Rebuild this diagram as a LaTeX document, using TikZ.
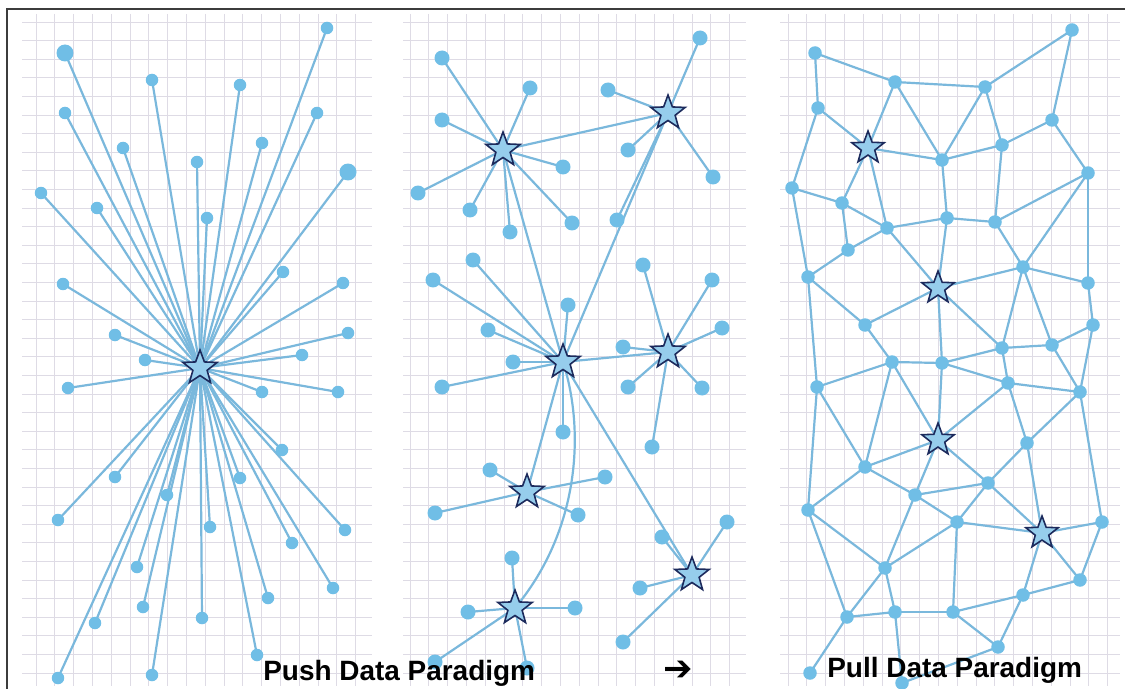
\documentclass[tikz,border=0pt]{standalone}
\usepackage{fontspec}
\setmainfont{Liberation Sans}
\newfontfamily\symfont{DejaVu Sans}
\usetikzlibrary{shapes.geometric}
\pgfdeclarelayer{gridlayer}
\pgfdeclarelayer{edgelayer}
\pgfsetlayers{gridlayer,edgelayer,main}
\definecolor{gridc}{RGB}{222,219,229}
\definecolor{dotc}{RGB}{112,190,230}
\definecolor{edgec}{RGB}{122,184,220}
\definecolor{starfill}{RGB}{150,205,236}
\definecolor{starline}{RGB}{28,42,92}
\definecolor{framec}{RGB}{60,60,60}
\tikzset{
  gridline/.style={draw=gridc, line width=0.5pt},
  dot/.style={circle, fill=dotc, draw=none, inner sep=0pt, minimum size=0.25cm},
  bigdot/.style={dot, minimum size=0.34cm},
  dotb/.style={dot, minimum size=0.30cm},
  dotc3/.style={dot, minimum size=0.27cm},
  starnode/.style={star, star points=5, star point ratio=2.4, fill=starfill, draw=starline, line width=0.9pt, inner sep=0pt, minimum size=0.72cm},
  edge/.style={draw=edgec, line width=1.25pt},
  lbl/.style={font=\fontsize{15.9pt}{18pt}\selectfont\bfseries, inner sep=0pt, text=black}
}
\begin{document}
\begin{tikzpicture}[x=0.02cm,y=-0.02cm]
\useasboundingbox (0,0) rectangle (1125,689);
% grids
\begin{pgfonlayer}{gridlayer}
\fill[white] (0,0) rectangle (1125,689);
\foreach \xa/\xb/\xs in {22/372/36, 403/746/410, 780/1120/788}{
  \pgfmathsetmacro{\nv}{int((\xb-\xs)/18.8)}
  \foreach \k in {0,...,\nv}{
    \draw[gridline] ({\xs+\k*18.8},14) -- ({\xs+\k*18.8},686);
  }
  \foreach \k in {0,...,35}{
    \draw[gridline] (\xa,{22+\k*18.6}) -- (\xb,{22+\k*18.6});
  }
}
\end{pgfonlayer}
% frame
\draw[framec, line width=1.6pt] (7,689) -- (7,9) -- (1125,9);

% ---------- Panel 1 ----------
\node[starnode] (s0) at (200,368) {};
\node[bigdot] (a0) at (65,53) {};
\node[bigdot] (a00) at (348,172) {};
\begin{pgfonlayer}{edgelayer}
\draw[edge] (a0.center) -- (s0.center);
\draw[edge] (a00.center) -- (s0.center);
\end{pgfonlayer}
\foreach \px/\py [count=\i] in {152/80, 240/85, 327/28, 65/113, 317/113, 123/148, 262/143, 197/162,
  41/193, 97/208, 207/218, 283/272, 63/284, 343/283, 115/335, 348/333,
  145/360, 302/355, 68/388, 262/392, 338/392, 282/450, 115/477, 240/478,
  167/495, 58/520, 210/527, 345/530, 292/543, 137/567, 333/588, 268/598,
  143/607, 202/618, 95/623, 257/655, 58/678, 152/675}{
  \node[dot] (a\i) at (\px,\py) {};
  \begin{pgfonlayer}{edgelayer}
  \draw[edge] (a\i.center) -- (s0.center);
  \end{pgfonlayer}
}

% ---------- Panel 2 ----------
\node[starnode] (s1) at (503,150) {};
\node[starnode] (s2) at (668,113) {};
\node[starnode] (s3) at (563,362) {};
\node[starnode] (s4) at (668,352) {};
\node[starnode] (s5) at (527,492) {};
\node[starnode] (s6) at (692,575) {};
\node[starnode] (s7) at (515,608) {};
\foreach \px/\py/\st [count=\i] in {442/58/s1, 530/88/s1, 442/120/s1, 563/167/s1, 418/193/s1, 470/210/s1, 510/232/s1, 572/223/s1,
  700/38/s2, 608/90/s2, 628/150/s2, 713/177/s2, 617/220/s2,
  473/260/s3, 433/280/s3, 568/305/s3, 488/330/s3, 513/362/s3, 442/387/s3, 563/432/s3,
  643/265/s4, 712/280/s4, 722/328/s4, 623/347/s4, 628/387/s4, 702/388/s4, 652/447/s4,
  490/470/s5, 605/477/s5, 435/513/s5, 578/515/s5,
  727/522/s6, 662/537/s6, 640/588/s6, 623/642/s6,
  512/558/s7, 468/612/s7, 575/608/s7, 435/662/s7, 527/668/s7}{
  \node[dotb] (b\i) at (\px,\py) {};
  \begin{pgfonlayer}{edgelayer}
  \draw[edge] (b\i.center) -- (\st.center);
  \end{pgfonlayer}
}
\begin{pgfonlayer}{edgelayer}
\draw[edge] (s1.center) -- (s2.center);
\draw[edge] (s1.center) -- (s3.center);
\draw[edge] (s2.center) -- (s3.center);
\draw[edge] (s3.center) -- (s4.center);
\draw[edge] (s3.center) -- (s5.center);
\draw[edge] (s3.center) -- (s6.center);
\draw[edge] (s3.center) .. controls (585,430) and (580,530) .. (s7.center);
\end{pgfonlayer}

% ---------- Panel 3 ----------
\node[starnode, minimum size=0.68cm] (qG) at (868,148) {};
\node[starnode, minimum size=0.68cm] (qS) at (938,288) {};
\node[starnode, minimum size=0.68cm] (qAD) at (938,440) {};
\node[starnode, minimum size=0.68cm] (qAK) at (1042,533) {};
\foreach \nm/\px/\py in {A/815/53, B/895/82, C/985/87, D/1072/30, E/818/108, F/1052/120,
  H/942/160, I/1002/145, J/1088/173, K/792/188, L/842/203, M/947/218, N/887/228,
  O/995/222, P/848/250, Q/1023/267, R/808/277, T/1088/283, U/865/325, V/1093/325,
  W/1002/348, X/1052/345, Y/892/362, Z/942/363, AA/1008/383, AB/817/387, AC/1080/392,
  AE/1027/443, AF/865/467, AG/988/483, AH/915/495, AI/808/510, AJ/957/522, AL/1102/522,
  AM/885/568, AN/1080/580, AO/1023/595, AP/847/617, AQ/895/612, AR/953/612, AS/998/647,
  AT/810/673, AU/902/683}{
  \node[dotc3] (q\nm) at (\px,\py) {};
}
\begin{pgfonlayer}{edgelayer}
\foreach \u/\v in {A/B, A/E, B/C, C/D, D/F, B/G, B/H, C/H, C/I, E/G, E/K, G/H, H/I, F/I, F/J,
  G/L, G/N, H/M, I/O, K/L, K/R, L/P, L/N, N/M, M/O, N/S, M/S, J/O, J/Q, J/T, O/Q,
  P/N, P/R, R/U, S/U, S/Q, Q/T, Q/W, Q/X, T/V, V/X, S/W, S/Z,
  R/AB, Y/U, Y/Z, Y/AB, Y/AF, Y/AD, Z/W, Z/AA, W/X, W/AA, X/AC, AA/AC, AA/AD, AA/AE,
  AC/AE, AC/AL, AC/V, AD/AF, AD/AG, AD/AH, AD/Z, AE/AG, AE/AK, AF/AB, AF/AI, AF/AH,
  AG/AH, AG/AJ, AG/AK, AH/AJ, AH/AM, AI/AB, AI/AM, AI/AP, AJ/AK, AJ/AM, AJ/AR,
  AK/AL, AK/AN, AK/AO, AL/AN, AM/AP, AM/AQ, AN/AO, AO/AR, AO/AS, AP/AQ, AP/AT,
  AQ/AR, AQ/AU, AR/AS, AS/AU}{
  \draw[edge] (q\u.center) -- (q\v.center);
}
\end{pgfonlayer}

% ---------- Labels ----------
\node[lbl, anchor=base west] (push) at (263,680) {Push Data Paradigm};
\node[lbl, anchor=base west] (pull) at (827,677) {Pull Data Paradigm};
\node[inner sep=0pt, font=\symfont\fontsize{20pt}{22pt}\selectfont\bfseries] (arrow) at (678,671) {➔};
\end{tikzpicture}
\end{document}
